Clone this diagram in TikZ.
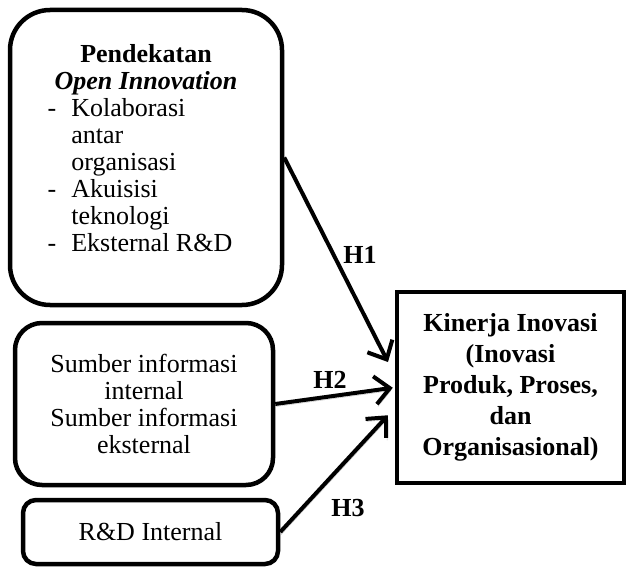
\documentclass[tikz,border=0pt]{standalone}
\usepackage{fontspec}
\setmainfont{Liberation Serif}
\usetikzlibrary{arrows.meta}

\begin{document}
\begin{tikzpicture}[x=1pt,y=-1pt,
		box_style/.style={draw=black,line width=4.5pt,inner sep=0pt,align=center,font=\fontsize{26}{27}\selectfont},
		big_style/.style={box_style,rounded corners=40pt,minimum width=272pt,minimum height=295pt},
		mid_style/.style={box_style,rounded corners=27pt,minimum width=258pt,minimum height=162pt},
		small_style/.style={box_style,rounded corners=13pt,minimum width=255pt,minimum height=64pt},
		target_style/.style={box_style,minimum width=227pt,minimum height=191pt,font=\fontsize{26}{31}\selectfont\bfseries},
		label_style/.style={font=\fontsize{26}{27}\selectfont\bfseries},
		edge_style/.style={draw=black,line width=4pt,-{Straight Barb[length=15pt,width=28pt]},
			preaction={draw=black!25,transform canvas={shift={(1pt,-2.5pt)}}}}]
		
		\useasboundingbox (0,0) rectangle (626,567);
		
		\node[big_style] (pendekatan) at (146,157.5) {\begin{tabular}{@{}l@{\hspace{15pt}}l@{\hspace{12pt}}}
				\multicolumn{2}{c}{\textbf{Pendekatan}}\\
				\multicolumn{2}{c}{\textbf{\textit{Open Innovation}}}\\
				- & Kolaborasi\\
				& antar\\
				& organisasi\\
				- & Akuisisi\\
				& teknologi\\
				- & Eksternal R\&D\\[12pt]
		\end{tabular}};
		\node[mid_style] (sumber) at (144,404) {Sumber informasi\\internal\\Sumber informasi\\eksternal};
		\node[small_style] (rd) at (150.5,532) {R\&D Internal};
		\node[target_style] (kinerja) at (510.5,387.5) {Kinerja Inovasi\\(Inovasi\\Produk, Proses,\\dan\\Organisasional)};
		
		\node[label_style] (h1) at (360,255) {H1};
		\node[label_style] (h2) at (330,380) {H2};
		\node[label_style] (h3) at (348,508) {H3};
		
		\draw[edge_style, shorten >=15pt]  (pendekatan.east) -- (kinerja.174);
		\draw[edge_style, shorten >=2pt]  (sumber.east) -- (kinerja.west);
		\draw[edge_style, shorten >=10pt]  (rd.east) -- (kinerja.190);
\end{tikzpicture}
\end{document}
